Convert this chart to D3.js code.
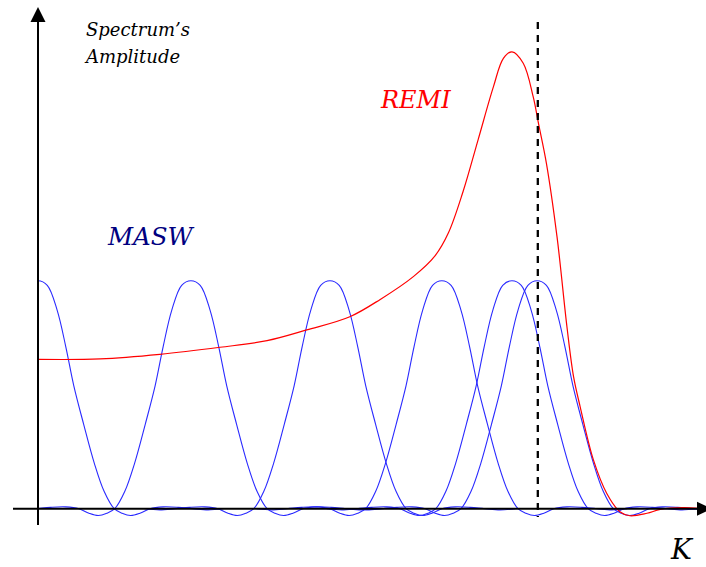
<!DOCTYPE html>
<html>
<head>
<meta charset="utf-8">
<script src="https://cdn.jsdelivr.net/npm/d3@7"></script>
<style>
  body { margin: 0; background: #fff; }
  svg { display: block; }
</style>
</head>
<body>
<svg id="chart" width="706" height="567"></svg>
<script>
// MASW peaks: every peak has the same shape, centred at these wavenumbers
var peakCentres = [0, 2.31, 4.41, 6.10, 7.16, 7.54];
// half of one MASW peak (offset from centre in K, amplitude)
var profileOffset = [0, 0.14, 0.29, 0.42, 0.54, 0.69, 0.85, 1.0, 1.15, 1.27, 1.4, 1.54, 1.69, 1.89, 2.12, 2.34, 2.57, 2.8];
var profileValue = [1.0, 0.98, 0.87, 0.71, 0.54, 0.37, 0.20, 0.075, 0.0, -0.02, -0.03, -0.02, 0.0, 0.008, 0.006, 0.0, -0.005, 0.0];

// REMI spectrum
var remiK = [0, 0.94, 1.84, 2.75, 3.46, 4.06, 4.71, 5.17, 5.67, 6.0, 6.2, 6.42, 6.65, 6.88, 7.03, 7.16,
  7.33, 7.48, 7.56, 7.68, 7.84, 7.99, 8.09, 8.19, 8.39, 8.59, 8.79, 8.94, 9.2, 9.4, 9.74, 10.0];
var remiAmp = [0.655, 0.657, 0.677, 0.708, 0.737, 0.784, 0.842, 0.918, 1.018, 1.11, 1.21, 1.39, 1.62, 1.851, 1.975, 2.004,
  1.954, 1.807, 1.69, 1.515, 1.193, 0.798, 0.579, 0.447, 0.214, 0.068, -0.013, -0.031, -0.02, -0.003, 0.005, 0.001];

var cutoffK = 7.55;

var svg = d3.select("#chart");
var WIDTH = 706, HEIGHT = 567;
var SERIF = "DejaVu Serif";

var xScale = d3.scaleLinear().domain([0, 10]).range([38, 700]);
var yScale = d3.scaleLinear().domain([0, 1]).range([508.7, 280.7]);

svg.append("defs").append("clipPath").attr("id", "plotClip")
  .append("rect").attr("x", xScale(0)).attr("y", 0)
  .attr("width", xScale(10) - xScale(0)).attr("height", HEIGHT);

// build full symmetric peak from the half profile
function peakPoints(centre) {
  var pts = [];
  for (var i = profileOffset.length - 1; i > 0; i--) {
    pts.push([centre - profileOffset[i], profileValue[i]]);
  }
  for (var j = 0; j < profileOffset.length; j++) {
    pts.push([centre + profileOffset[j], profileValue[j]]);
  }
  return pts;
}

var line = d3.line()
  .x(function(d) { return xScale(d[0]); })
  .y(function(d) { return yScale(d[1]); })
  .curve(d3.curveCatmullRom.alpha(0.5));

var plot = svg.append("g").attr("clip-path", "url(#plotClip)");

peakCentres.forEach(function(c) {
  plot.append("path")
    .attr("d", line(peakPoints(c)))
    .attr("fill", "none")
    .attr("stroke", "#2a2aff")
    .attr("stroke-width", 1.1);
});

var remiData = remiK.map(function(k, i) { return [k, remiAmp[i]]; });
plot.append("path")
  .attr("d", line(remiData))
  .attr("fill", "none")
  .attr("stroke", "#ff0000")
  .attr("stroke-width", 1.2);

// dashed cut-off line
svg.append("line")
  .attr("x1", xScale(cutoffK)).attr("x2", xScale(cutoffK))
  .attr("y1", 22).attr("y2", 517)
  .attr("stroke", "#000")
  .attr("stroke-width", 2.3)
  .attr("stroke-dasharray", "7,6");

// axes with arrow heads
svg.append("line")
  .attr("x1", 13).attr("x2", 700)
  .attr("y1", yScale(0)).attr("y2", yScale(0))
  .attr("stroke", "#000").attr("stroke-width", 2);
svg.append("path")
  .attr("d", "M" + 697 + "," + (yScale(0) - 7) + " L" + 712 + "," + yScale(0) + " L" + 697 + "," + (yScale(0) + 7) + "Z")
  .attr("fill", "#000");

svg.append("line")
  .attr("x1", xScale(0)).attr("x2", xScale(0))
  .attr("y1", 525).attr("y2", 20)
  .attr("stroke", "#000").attr("stroke-width", 2);
svg.append("path")
  .attr("d", "M" + (xScale(0) - 7.5) + ",22 L" + xScale(0) + ",7 L" + (xScale(0) + 7.5) + ",22Z")
  .attr("fill", "#000");

// labels
function label(x, y, size, colour, str) {
  svg.append("text")
    .attr("x", x).attr("y", y)
    .attr("font-family", SERIF)
    .attr("font-style", "italic")
    .attr("font-size", size)
    .attr("fill", colour)
    .text(str);
}
label(86, 36, 18, "#000", "Spectrum’s");
label(86, 63, 18, "#000", "Amplitude");
label(381, 108, 24, "#ff0000", "REMI");
label(108, 245, 24.5, "#000080", "MASW");
label(671, 559, 28, "#000", "K");
</script>
</body>
</html>
